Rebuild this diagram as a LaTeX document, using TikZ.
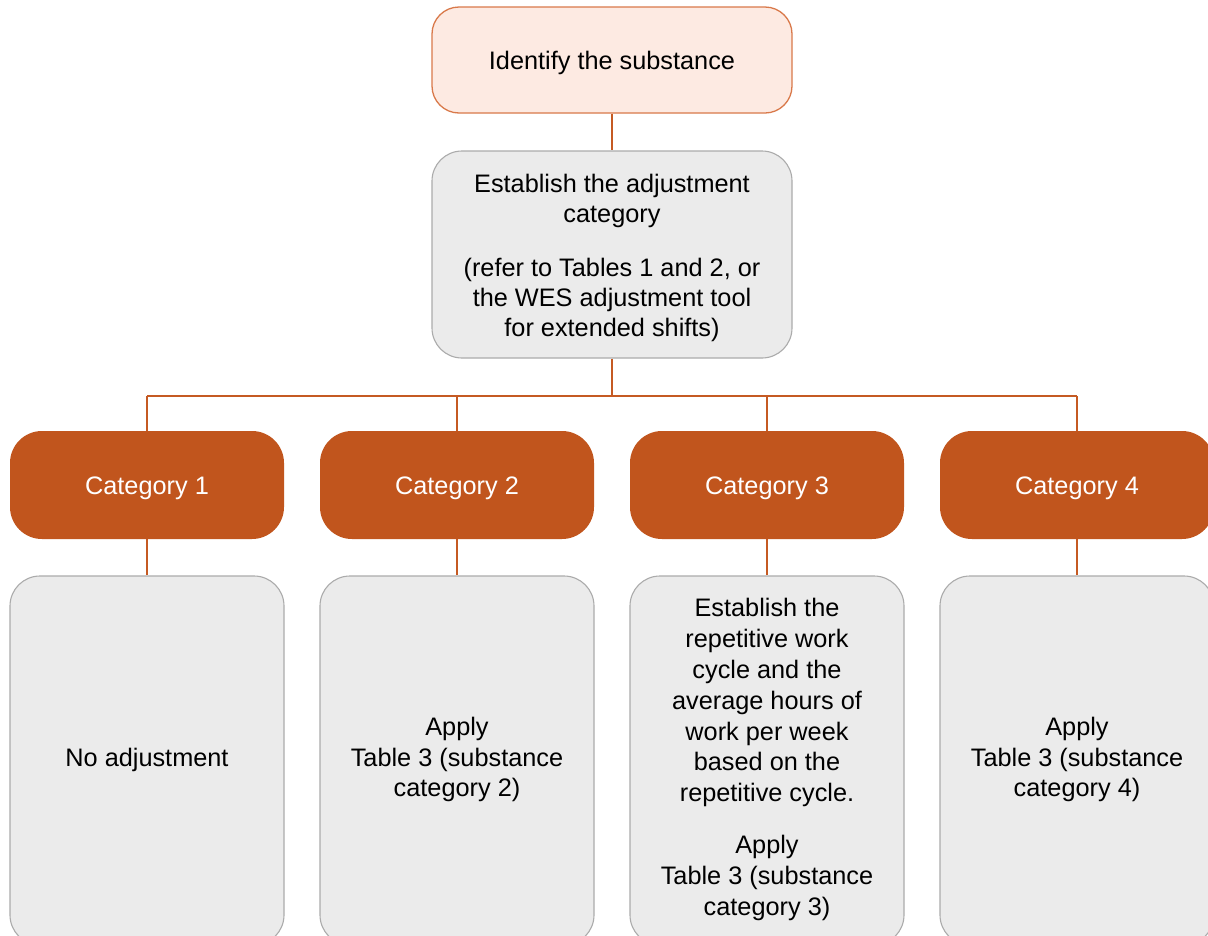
\documentclass[tikz,border=0pt]{standalone}
\usepackage{fontspec}
\setmainfont{Liberation Sans}
\definecolor{peachfill}{HTML}{FDEAE2}
\definecolor{peachline}{HTML}{D9794A}
\definecolor{catfill}{HTML}{C1551D}
\definecolor{grayfill}{HTML}{EBEBEB}
\definecolor{grayline}{HTML}{ABABAB}
\definecolor{conn}{HTML}{C55A23}
\begin{document}
\begin{tikzpicture}[x=1pt,y=-1pt,
  every node/.style={font=\fontsize{25.3}{30}\selectfont, align=center, inner sep=0pt},
  txt/.style={yshift=-3pt},
  bottxt/.style={font=\fontsize{25.3}{30.8}\selectfont, yshift=1pt},
  startbox/.style={draw=peachline, fill=peachfill, line width=1.3pt, rounded corners=27pt, minimum width=360pt, minimum height=106pt},
  graybox/.style={draw=grayline, fill=grayfill, line width=1.1pt, rounded corners=30pt},
  catbox/.style={fill=catfill, rounded corners=32pt, minimum width=274pt, minimum height=108pt},
  cattxt/.style={txt, text=white},
  botbox/.style={graybox, minimum width=274pt, minimum height=369pt},
  link/.style={draw=conn, line width=2pt}]
\useasboundingbox (0,0) rectangle (1208,935);
\clip (0,0) rectangle (1208,935);
\fill[white] (0,0) rectangle (1208,935);

\node[startbox] (start) at (612,60) {};
\node[txt] (startT) at (start.center) {Identify the substance};
\node[graybox, minimum width=360pt, minimum height=207pt] (est) at (612,254.5) {};
\node[txt] (estT) at (est.center)
  {Establish the adjustment\\ category\\[24pt] (refer to Tables 1 and 2, or\\ the WES adjustment tool\\ for extended shifts)};

\node[catbox] (c1) at (147,485) {};
\node[catbox] (c2) at (457,485) {};
\node[catbox] (c3) at (767,485) {};
\node[catbox] (c4) at (1077,485) {};
\node[cattxt] (c1T) at (c1.center) {Category 1};
\node[cattxt] (c2T) at (c2.center) {Category 2};
\node[cattxt] (c3T) at (c3.center) {Category 3};
\node[cattxt] (c4T) at (c4.center) {Category 4};

\node[botbox] (b1) at (147,760.5) {};
\node[botbox] (b2) at (457,760.5) {};
\node[botbox] (b3) at (767,760.5) {};
\node[botbox] (b4) at (1077,760.5) {};
\node[bottxt] (b1T) at (b1.center) {No adjustment};
\node[bottxt] (b2T) at (b2.center) {Apply\\ Table 3 (substance\\ category 2)};
\node[bottxt] (b3T) at (b3.center) {Establish the\\ repetitive work\\ cycle and the\\ average hours of\\ work per week\\ based on the\\ repetitive cycle.\\[21pt] Apply\\ Table 3 (substance\\ category 3)};
\node[bottxt] (b4T) at (b4.center) {Apply\\ Table 3 (substance\\ category 4)};

\coordinate (bus) at (612,396);
\draw[link] (start.south) -- (est.north);
\draw[link] (est.south) -- (bus);
\draw[link] (c1.north |- bus) -- (c4.north |- bus);
\foreach \c in {c1,c2,c3,c4} \draw[link] (\c.north |- bus) -- (\c.north);
\draw[link] (c1.south) -- (b1.north);
\draw[link] (c2.south) -- (b2.north);
\draw[link] (c3.south) -- (b3.north);
\draw[link] (c4.south) -- (b4.north);
\end{tikzpicture}
\end{document}
